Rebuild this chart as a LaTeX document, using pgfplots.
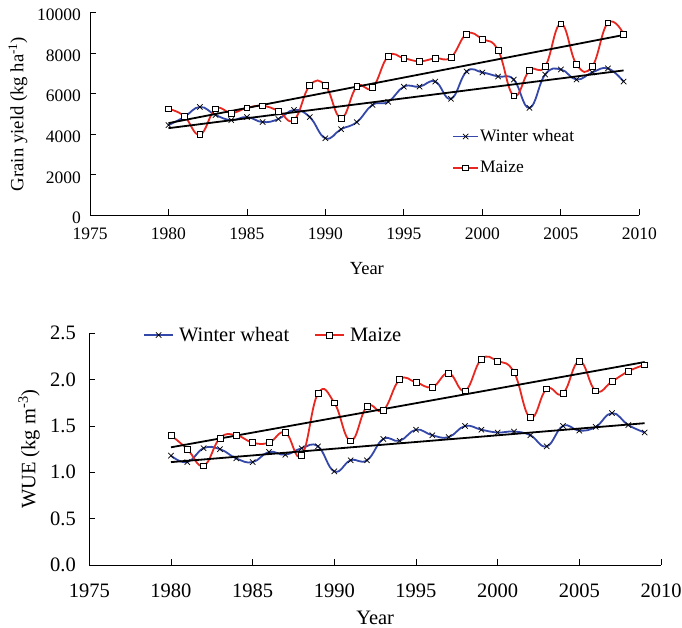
\documentclass[border=0pt]{standalone}
\usepackage{fontspec}
\setmainfont{Liberation Serif}
\usepackage{pgfplots}
\pgfplotsset{compat=1.18}
\definecolor{wblue}{RGB}{52,72,170}
\definecolor{mred}{RGB}{232,40,32}
\pgfplotsset{
  common/.style={
    scale only axis,
    axis x line=bottom, axis y line=left,
    axis line style={-, line width=0.9pt},
    tick align=inside,
    major tick length=6pt,
    tick style={black, line width=0.8pt},
    xmin=1975, xmax=2010, xtick={1975,1980,...,2010},
    scaled ticks=false,
    /pgf/number format/assume math mode=true,
    /pgf/number format/1000 sep={},
    clip=false,
    legend cell align=left,
  },
  wheat/.style={wblue, line width=1.8pt, smooth, tension=0.75, mark=x, mark size=3.8pt, mark options={black, solid, line width=0.7pt}},
  maize/.style={mred, line width=1.8pt, smooth, tension=0.75, mark=square*, mark size=2.9pt, mark options={draw=black, fill=white, solid, line width=0.7pt}},
  trend/.style={black, line width=1.8pt, no marks, forget plot},
}
\begin{document}
\begin{tikzpicture}
\path[use as bounding box] (0,0) rectangle (682pt,-628pt);
% ---------------- top -----------------
\begin{axis}[common,
  at={(90pt,-215.3pt)}, anchor=south west,
  width=549.3pt, height=202.6pt,
  ymin=0, ymax=10000, ytick={0,2000,...,10000},
  font=\fontsize{17.5}{21}\selectfont,
  xticklabel style={inner sep=0pt, yshift=-12.7pt},
  yticklabel style={inner sep=0pt, xshift=-9pt, yshift=-2.5pt},
  xlabel={Year}, ylabel={Grain yield (kg ha\textsuperscript{-1})},
  every axis x label/.style={at={(axis description cs:0.504,-0.265)}, anchor=center, font=\fontsize{18.5}{22}\selectfont},
  every axis y label/.style={at={(axis description cs:-0.1311,0.5)}, rotate=90, anchor=center, font=\fontsize{18.7}{22}\selectfont},
  legend image code/.code={\draw[mark repeat=2,mark phase=2,#1] plot coordinates {(0pt,0pt) (12.5pt,0pt) (25pt,0pt)};},
  legend style={at={(axis cs:1998.07,3120)}, anchor=west, draw=none, fill=none, inner sep=0pt,
    nodes={inner sep=0pt}, row sep=18pt,
    /tikz/every odd column/.append style={column sep=1pt}},
]
\addplot[wheat] coordinates {
(1980,4450) (1981,4850) (1982,5350) (1983,4950) (1984,4700) (1985,4850)
(1986,4600) (1987,4750) (1988,5200) (1989,4850) (1990,3800) (1991,4250)
(1992,4600) (1993,5450) (1994,5600) (1995,6350) (1996,6350) (1997,6600)
(1998,5750) (1999,7100) (2000,7050) (2001,6850) (2002,6700) (2003,5300)
(2004,6950) (2005,7200) (2006,6700) (2007,7050) (2008,7250) (2009,6600)};
\addlegendentry{Winter wheat}
\addplot[maize] coordinates {
(1980,5250) (1981,4900) (1982,3980) (1983,5250) (1984,5050) (1985,5300)
(1986,5400) (1987,5150) (1988,4700) (1989,6400) (1990,6400) (1991,4800)
(1992,6350) (1993,6300) (1994,7850) (1995,7750) (1996,7600) (1997,7750)
(1998,7800) (1999,8950) (2000,8700) (2001,8150) (2002,5900) (2003,7150)
(2004,7350) (2005,9450) (2006,7450) (2007,7350) (2008,9500) (2009,8950)};
\addlegendentry{Maize}
\addplot[trend] coordinates {(1980,4300) (2009,7150)};
\addplot[trend] coordinates {(1980,4550) (2009,8900)};
\end{axis}
% ---------------- bottom -----------------
\begin{axis}[common,
  at={(89.3pt,-565pt)}, anchor=south west,
  width=571.7pt, height=231.7pt,
  ymin=0, ymax=2.5, ytick={0,0.5,...,2.5},
  font=\fontsize{20.5}{24}\selectfont,
  xticklabel style={inner sep=0pt, yshift=-18.7pt},
  yticklabel style={inner sep=0pt, xshift=-13.3pt,
    /pgf/number format/fixed, /pgf/number format/fixed zerofill, /pgf/number format/precision=1},
  xlabel={Year}, ylabel={WUE (kg m\textsuperscript{-3})},
  every axis x label/.style={at={(axis description cs:0.5,-0.229)}, anchor=center},
  every axis y label/.style={at={(axis description cs:-0.1055,0.5)}, rotate=90, anchor=center},
  legend columns=2,
  legend image code/.code={\draw[mark repeat=2,mark phase=2,#1] plot coordinates {(0pt,0pt) (14.5pt,0pt) (29pt,0pt)};},
  legend style={at={(axis cs:1978.29,2.481)}, anchor=west, draw=none, fill=none, inner sep=0pt,
    nodes={inner sep=0pt},
    /tikz/every odd column/.append style={column sep=5pt},
    /tikz/every even column/.append style={column sep=25pt}},
]
\addplot[wheat] coordinates {
(1980,1.18) (1981,1.11) (1982,1.26) (1983,1.25) (1984,1.15) (1985,1.11)
(1986,1.22) (1987,1.19) (1988,1.26) (1989,1.28) (1990,1.01) (1991,1.13)
(1992,1.13) (1993,1.36) (1994,1.34) (1995,1.46) (1996,1.40) (1997,1.38)
(1998,1.50) (1999,1.46) (2000,1.43) (2001,1.44) (2002,1.40) (2003,1.28)
(2004,1.50) (2005,1.45) (2006,1.49) (2007,1.64) (2008,1.51) (2009,1.43)};
\addlegendentry{Winter wheat}
\addplot[maize] coordinates {
(1980,1.40) (1981,1.25) (1982,1.07) (1983,1.37) (1984,1.40) (1985,1.32)
(1986,1.32) (1987,1.43) (1988,1.18) (1989,1.85) (1990,1.75) (1991,1.34)
(1992,1.71) (1993,1.67) (1994,2.00) (1995,1.97) (1996,1.92) (1997,2.07)
(1998,1.88) (1999,2.22) (2000,2.20) (2001,2.08) (2002,1.59) (2003,1.90)
(2004,1.85) (2005,2.20) (2006,1.88) (2007,1.98) (2008,2.09) (2009,2.16)};
\addlegendentry{Maize}
\addplot[trend] coordinates {(1980,1.11) (2009,1.53)};
\addplot[trend] coordinates {(1980,1.27) (2009,2.19)};
\end{axis}
\end{tikzpicture}
\end{document}
